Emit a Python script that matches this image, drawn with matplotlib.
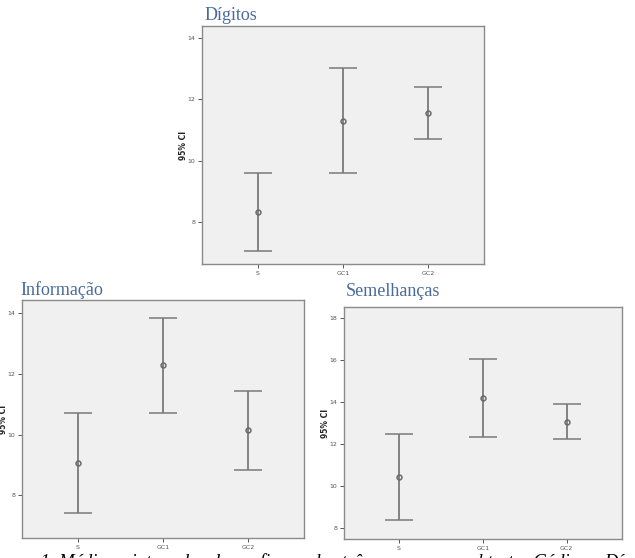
import matplotlib.pyplot as plt

# Data (means and 95% CI limits)
groups = ['S', 'GC1', 'GC2']

digitos_mean = [8.32, 11.30, 11.57]
digitos_low = [7.05, 9.60, 10.72]
digitos_high = [9.59, 13.02, 12.39]

info_mean = [9.07, 12.27, 10.14]
info_low = [7.43, 10.72, 8.85]
info_high = [10.72, 13.82, 11.43]

semel_mean = [10.46, 14.19, 13.06]
semel_low = [8.40, 12.36, 12.27]
semel_high = [12.50, 16.05, 13.90]

W, H = 635, 558
fig = plt.figure(figsize=(W / 100, H / 100), dpi=100)

title_color = '#4a6a9c'
bar_color = '#7a7a7a'


def panel(rect, mean, low, high, ylim, yticks, title, title_xy, ylabel_x):
    x0, y0, x1, y1 = rect
    ax = fig.add_axes([x0 / W, 1 - y1 / H, (x1 - x0) / W, (y1 - y0) / H])
    ax.set_facecolor('#f0f0f0')
    xs = range(1, len(groups) + 1)
    yerr = [[m - l for m, l in zip(mean, low)], [h - m for m, h in zip(mean, high)]]
    ax.errorbar(xs, mean, yerr=yerr, fmt='o', color=bar_color, ecolor=bar_color,
                elinewidth=1.3, capsize=10, capthick=1.3, markersize=3.5,
                markerfacecolor='none', markeredgecolor='#6a6a6a', markeredgewidth=1.1)
    ax.set_xlim(0.345, 3.66)
    ax.set_ylim(*ylim)
    ax.set_xticks(list(xs))
    ax.set_xticklabels(groups)
    ax.set_yticks(yticks)
    ax.tick_params(labelsize=4.5, length=3, width=0.7, colors='#555555', pad=2)
    for s in ax.spines.values():
        s.set_color('#8a8a8a')
        s.set_linewidth(1.0)
    fig.text(ylabel_x / W, 1 - ((y0 + y1) / 2) / H, '95% CI', rotation=90,
             fontsize=5.5, fontweight='bold', ha='center', va='center', color='#222222')
    fig.text(title_xy[0] / W, 1 - title_xy[1] / H, title, fontsize=13,
             family='Liberation Serif', color=title_color, ha='left', va='baseline')
    return ax


panel((202, 26, 484, 264), digitos_mean, digitos_low, digitos_high,
      (6.62, 14.4), [8, 10, 12, 14], 'Dígitos', (205, 20), 183)
panel((22, 300, 304, 538), info_mean, info_low, info_high,
      (6.6, 14.42), [8, 10, 12, 14], 'Informação', (20, 295), 4)
panel((344, 307, 622, 539), semel_mean, semel_low, semel_high,
      (7.49, 18.54), [8, 10, 12, 14, 16, 18], 'Semelhanças', (346, 296), 326)

# caption, cropped by the image edges as in the original
fig.text(-16 / W, 1 - 567 / H,
         'Figura 1. Médias e intervalos de confiança dos três grupos nos subtestes Códigos, Dígitos',
         fontsize=13.4, family='Liberation Serif', style='italic', color='black',
         ha='left', va='baseline')

fig.savefig('out.png', dpi=100)
